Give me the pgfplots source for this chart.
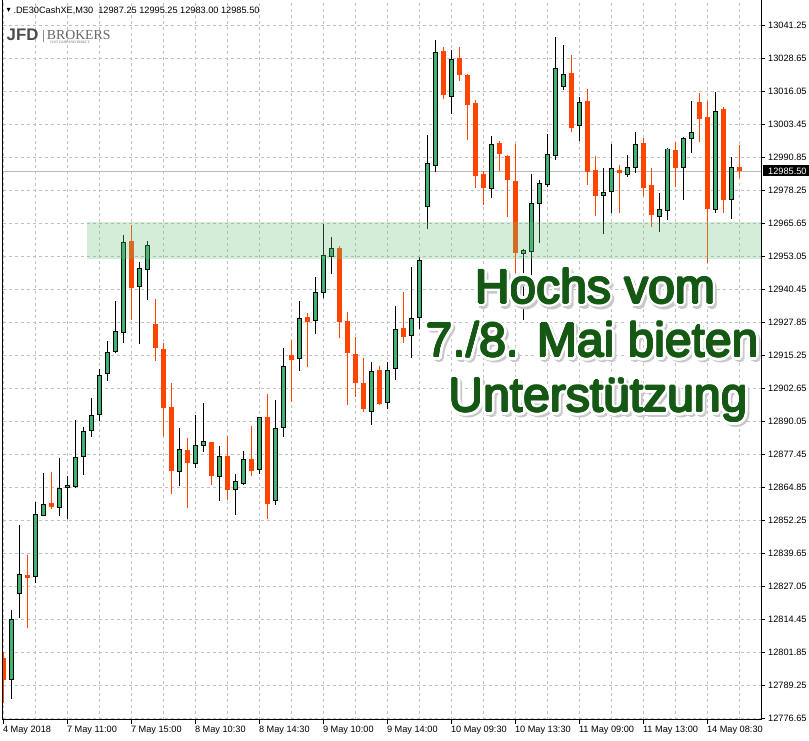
\documentclass[border=0pt]{standalone}
\usepackage{fontspec}
\setmainfont{Liberation Sans}
\newfontfamily\seriffont{Liberation Serif}
\usepackage{pgfplots}
\pgfplotsset{compat=1.18}
\usepackage{pgfplotstable}
\definecolor{bull}{RGB}{60,179,113}
\definecolor{bear}{RGB}{255,69,0}
\definecolor{gridc}{RGB}{192,192,192}
\definecolor{zone}{RGB}{112,195,125}
\definecolor{txtgreen}{RGB}{20,88,20}
\definecolor{shadowc}{RGB}{200,200,200}

\pgfplotstableread{
x o h l c
1 12791.41 12817.88 12783.90 12814.32
2 12824.25 12850.34 12814.70 12831.50
4 12830.61 12859.25 12828.32 12854.41
5 12854.03 12870.07 12853.80 12858.23
7 12857.08 12875.79 12853.90 12864.34
8 12864.72 12869.05 12852.63 12865.61
9 12865.36 12890.43 12864.34 12876.18
10 12876.56 12887.63 12869.43 12886.10
11 12886.48 12898.70 12884.07 12892.21
12 12892.59 12909.90 12890.18 12907.48
13 12908.25 12920.59 12905.45 12916.27
14 12916.52 12935.87 12916.14 12924.28
15 12923.90 12961.07 12919.96 12958.27
17 12941.34 12950.76 12919.45 12948.34
18 12947.96 12958.65 12936.38 12957.12
22 12870.70 12887.25 12865.23 12879.23
24 12873.76 12892.34 12872.23 12880.76
25 12880.76 12896.92 12878.34 12882.29
27 12868.92 12880.51 12859.51 12876.56
29 12863.96 12869.82 12854.29 12867.02
30 12866.25 12878.47 12865.62 12875.42
32 12871.60 12891.60 12869.82 12891.45
34 12859.76 12898.07 12858.11 12887.25
35 12887.63 12917.92 12884.07 12910.92
37 12913.98 12935.87 12909.27 12929.25
39 12928.49 12945.03 12923.40 12939.18
40 12939.18 12965.40 12936.89 12953.31
41 12952.92 12960.31 12946.31 12955.98
46 12893.74 12912.45 12888.65 12909.01
48 12897.30 12912.58 12894.63 12909.39
49 12910.16 12933.96 12905.70 12925.05
51 12922.76 12948.85 12913.98 12929.25
52 12929.63 12952.67 12925.05 12951.52
53 12972.01 12999.25 12963.36 12988.43
54 12987.67 13035.52 12985.25 13030.81
56 13014.01 13031.70 13007.39 13028.27
61 12978.89 12998.87 12975.32 12995.69
65 12954.19 12955.72 12928.61 12955.34
66 12954.83 12984.36 12945.54 12972.90
67 12973.16 12982.07 12958.14 12980.79
68 12980.29 12999.63 12979.52 12991.87
69 12991.36 13036.79 12989.83 13024.70
70 13017.70 13033.61 13016.43 13022.54
72 13002.81 13013.76 12996.96 13011.72
75 12976.21 12986.78 12961.45 12977.36
76 12977.61 12995.81 12969.34 12986.52
78 12984.23 12991.61 12983.34 12987.03
79 12986.90 13000.39 12984.87 12995.69
82 12968.19 12977.23 12962.34 12970.87
83 12970.49 12994.16 12966.79 12993.90
85 12986.90 12998.36 12974.43 12998.10
86 12997.98 13012.36 12992.50 13000.27
89 12970.87 13015.67 12969.59 13008.41
91 12974.69 12990.98 12967.30 12987.03
}\greentbl

\pgfplotstableread{
x o h l c
0 12799.43 12801.98 12782.25 12791.16
3 12831.25 12838.88 12811.14 12830.23
6 12858.99 12870.45 12856.45 12857.34
16 12958.78 12964.88 12928.61 12940.96
19 12927.08 12936.63 12912.96 12918.05
20 12917.54 12919.70 12884.32 12895.14
21 12895.39 12904.56 12862.18 12871.08
23 12879.23 12883.56 12856.96 12874.14
26 12881.91 12882.20 12865.62 12869.18
28 12876.94 12884.32 12859.89 12863.83
31 12875.42 12888.14 12869.18 12871.09
33 12891.45 12900.36 12852.76 12858.23
36 12915.25 12920.98 12897.43 12913.47
38 12929.76 12931.42 12910.80 12927.98
42 12956.36 12957.00 12921.87 12927.98
43 12928.49 12931.67 12896.29 12916.14
44 12915.63 12922.12 12899.34 12904.43
45 12904.56 12914.10 12893.61 12894.63
47 12909.52 12911.05 12896.29 12896.67
50 12925.69 12939.30 12919.96 12922.25
55 13031.32 13032.98 13013.12 13014.65
57 13028.65 13032.98 13019.99 13022.29
58 13022.16 13022.67 12997.34 13010.83
59 13011.47 13012.49 12979.14 12983.72
60 12984.36 12985.63 12972.65 12979.14
62 12996.19 12996.96 12985.63 12992.12
63 12991.23 12991.50 12968.07 12982.19
64 12981.69 12995.81 12946.43 12954.32
71 13022.92 13029.79 13000.52 13002.05
73 13012.23 13016.81 12980.16 12985.25
74 12985.89 12991.23 12968.45 12976.09
77 12986.14 12987.79 12969.59 12984.87
80 12996.19 12998.23 12976.09 12979.14
81 12980.16 12986.65 12964.25 12968.83
84 12993.52 12996.70 12979.52 12986.78
87 13011.85 13015.41 12996.70 13005.49
88 13006.12 13012.36 12950.50 12971.12
90 13009.18 13010.07 12969.59 12974.56
92 12987.25 12995.25 12983.00 12985.50
}\redtbl

\newcommand{\glow}[3]{%
  \foreach \sa in {0,45,...,315}
    \node[anchor=base, text=shadowc, shift={(2.5pt,-3pt)}, shift={(\sa:3pt)}] at (#1,#2) {#3};
  \foreach \a in {0,22.5,...,337.5}
    \node[anchor=base, text=white, shift={(\a:3.6pt)}] at (#1,#2) {#3};
  \foreach \a in {0,30,...,330}
    \node[anchor=base, text=white, shift={(\a:1.8pt)}] at (#1,#2) {#3};
  \foreach \a in {0,45,...,315}
    \node[anchor=base, text=txtgreen, shift={(\a:0.75pt)}] at (#1,#2) {#3};
  \node[anchor=base, text=txtgreen] at (#1,#2) {#3};
}

\pgfplotsset{candle/.style={only marks, mark=none, mark size=0pt, mark options={draw=none, fill=none}, forget plot}}

\begin{document}
\begin{tikzpicture}
\begin{axis}[
  scale only axis, width=758.3pt, height=720pt,
  xmin=-0.075, xmax=94.71, ymin=12775.89, ymax=13050.80,
  axis x line*=bottom, axis y line*=right,
  axis line style={black, line width=1pt},
  scaled y ticks=false, scaled x ticks=false,
  tick align=outside, major tick length=4pt, minor tick length=0pt,
  tick style={black, line width=0.8pt},
  xtick={0,8,...,88}, minor xtick={4,12,...,92},
  xticklabels={4 May 2018, 7 May 11:00, 7 May 15:00, 8 May 10:30, 8 May 14:30, 9 May 10:00, 9 May 14:00, 10 May 09:30, 10 May 13:30, 11 May 09:00, 11 May 13:00, 14 May 08:30},
  ytick={12776.65,12789.25,12801.85,12814.45,12827.05,12839.65,12852.25,12864.85,12877.45,12890.05,12902.65,12915.25,12927.85,12940.45,12953.05,12965.65,12978.25,12990.85,13003.45,13016.05,13028.65,13041.25},
  yticklabels={12776.65,12789.25,12801.85,12814.45,12827.05,12839.65,12852.25,12864.85,12877.45,12890.05,12902.65,12915.25,12927.85,12940.45,12953.05,12965.65,12978.25,12990.85,13003.45,13016.05,13028.65,13041.25},
  grid=both,
  major grid style={gridc, dash pattern=on 3pt off 3pt, line width=0.8pt},
  minor grid style={gridc, dash pattern=on 3pt off 3pt, line width=0.8pt},
  ticklabel style={font=\fontsize{9.2}{11}\selectfont, inner sep=0pt},
  xticklabel style={anchor=north west, xshift=-0.5pt, yshift=-2pt},
  yticklabel style={anchor=west, xshift=3pt},
]
% current price line
\draw[gray!55, line width=0.8pt] (axis cs:-0.075,12985.5) -- (axis cs:94.71,12985.5);
% wicks
\addplot[candle, error bars/.cd, y dir=plus, y explicit, error mark=none,
  error bar style={line width=1pt, black}]
  table[x=x, y=l, y error expr=\thisrow{h}-\thisrow{l}] {\greentbl};
\addplot[candle, error bars/.cd, y dir=plus, y explicit, error mark=none,
  error bar style={line width=1pt, bear}]
  table[x=x, y=l, y error expr=\thisrow{h}-\thisrow{l}] {\redtbl};
% green bodies: outline then fill
\addplot[candle, error bars/.cd, y dir=both, y explicit, error mark=none,
  error bar style={line width=5pt, black}]
  table[x=x, y expr={(\thisrow{o}+\thisrow{c})/2}, y error expr={abs(\thisrow{c}-\thisrow{o})/2+0.19}] {\greentbl};
\addplot[candle, error bars/.cd, y dir=both, y explicit, error mark=none,
  error bar style={line width=3pt, bull}]
  table[x=x, y expr={(\thisrow{o}+\thisrow{c})/2}, y error expr={max(abs(\thisrow{c}-\thisrow{o})/2-0.19,0)}] {\greentbl};
% red bodies
\addplot[candle, error bars/.cd, y dir=both, y explicit, error mark=none,
  error bar style={line width=4.6pt, bear}]
  table[x=x, y expr={(\thisrow{o}+\thisrow{c})/2}, y error expr={max(abs(\thisrow{c}-\thisrow{o})/2,0.19)}] {\redtbl};
% support zone
\fill[zone, opacity=0.3] (axis cs:10.45,12951.9) rectangle (axis cs:94.71,12965.92);
\end{axis}

\begin{scope}[shift={(current axis.north west)}, xshift=-2.7pt, x=1pt, y=-1pt]
  \draw[black, line width=1pt] (2.7,0) -- (2.7,720.5);
  % annotation
  \begin{scope}[font=\fontsize{48}{54}\selectfont]
    \glow{595.3}{303.3}{Hochs vom}
    \glow{592.5}{356.7}{7./8. Mai bieten}
    \glow{598.3}{411.7}{Unterstützung}
  \end{scope}
  % header
  \fill[black] (6.7,8) -- (10.5,8) -- (8.6,11.8) -- cycle;
  \node[anchor=base west, inner sep=0pt, font=\fontsize{9.2}{11}\selectfont] at (13.3,13.6)
    {.DE30CashXE,M30\ \ 12987.25 12995.25 12983.00 12985.50};
  % logo
  \node[anchor=base west, inner sep=0pt, font=\bfseries\fontsize{16.8}{18}\selectfont, text=black!70] at (6.5,41) {JFD};
  \draw[black!45, line width=0.6pt] (43,30) -- (43,42);
  \node[anchor=base west, inner sep=0pt, font=\seriffont\fontsize{13.8}{15}\selectfont, text=black!60] at (46.7,39.3) {BROKERS};
  \node[anchor=base west, inner sep=0pt, font=\seriffont\fontsize{3.6}{4}\selectfont, text=black!60] at (50,43.5) {JUST FAIR AND DIRECT};
  % current price tag
  \fill[black] (762.5,165.5) rectangle (809,176.5);
  \node[anchor=west, inner sep=0pt, text=white, font=\fontsize{9.2}{11}\selectfont] at (768,171) {12985.50};
  \pgfresetboundingbox
  \path[use as bounding box] (0,0) rectangle (809,741);
\end{scope}
\end{tikzpicture}
\end{document}
